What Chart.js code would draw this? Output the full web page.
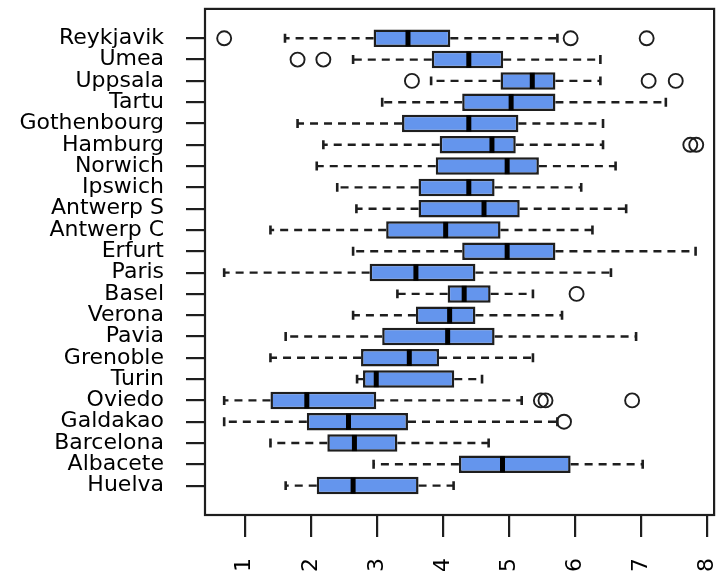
<!DOCTYPE html>
<html><head><meta charset="utf-8">
<script src="https://cdn.jsdelivr.net/npm/chart.js@4.4.1/dist/chart.umd.min.js"></script>
<style>html,body{margin:0;padding:0;background:#fff}#wrap{width:723px;height:574px}</style>
</head><body><div id="wrap"><canvas id="c" width="723" height="574"></canvas></div>
<script>
const cities = ["Reykjavik","Umea","Uppsala","Tartu","Gothenbourg","Hamburg","Norwich","Ipswich","Antwerp S","Antwerp C","Erfurt","Paris","Basel","Verona","Pavia","Grenoble","Turin","Oviedo","Galdakao","Barcelona","Albacete","Huelva"];
const lowWhisker  = [1.61,2.64,3.82,3.08,1.80,2.19,2.09,2.40,2.69,1.39,2.64,0.69,3.31,2.64,1.62,1.39,2.70,0.69,0.69,1.39,2.95,1.62];
const q1          = [2.95,3.83,4.87,4.29,3.38,3.95,3.89,3.63,3.63,3.14,4.29,2.89,4.07,3.59,3.08,2.76,2.79,1.39,1.94,2.25,4.24,2.09];
const median      = [3.47,4.39,5.35,5.03,4.39,4.74,4.97,4.39,4.62,4.04,4.97,3.59,4.32,4.10,4.07,3.49,2.99,1.94,2.57,2.66,4.90,2.64];
const q3          = [4.11,4.91,5.70,5.70,5.14,5.10,5.45,4.78,5.16,4.87,5.70,4.49,4.72,4.49,4.78,3.94,4.17,2.99,3.47,3.31,5.93,3.63];
const highWhisker = [5.73,6.38,6.38,7.37,6.42,6.42,6.61,6.09,6.77,6.26,7.82,6.54,5.36,5.80,6.92,5.36,4.59,5.19,5.73,4.69,7.02,4.16];
const outlierCity  = ["Reykjavik","Reykjavik","Reykjavik","Umea","Umea","Uppsala","Uppsala","Uppsala","Hamburg","Hamburg","Basel","Oviedo","Oviedo","Oviedo","Galdakao"];
const outlierValue = [0.69,5.93,7.08,1.80,2.19,3.53,7.11,7.52,7.74,7.83,6.02,5.48,5.55,6.86,5.83];
const xTicks = [1,2,3,4,5,6,7,8];

const INK = '#1e1e1e';
const boxExtras = {
  id: 'boxExtras',
  beforeDatasetsDraw(chart) {
    const xs = chart.scales.x, ys = chart.scales.y, ctx = chart.ctx;
    ctx.save();
    ctx.strokeStyle = INK;
    cities.forEach((c, i) => {
      const y = ys.getPixelForValue(i + 1);
      const ya = ys.getPixelForValue(i + 1 - 0.21), yb = ys.getPixelForValue(i + 1 + 0.21);
      ctx.lineWidth = 2.4;
      ctx.setLineDash([8, 6]);
      ctx.beginPath();
      ctx.moveTo(xs.getPixelForValue(q1[i]), y); ctx.lineTo(xs.getPixelForValue(lowWhisker[i]), y);
      ctx.moveTo(xs.getPixelForValue(q3[i]), y); ctx.lineTo(xs.getPixelForValue(highWhisker[i]), y);
      ctx.stroke();
      ctx.setLineDash([]);
      ctx.lineWidth = 2.6;
      ctx.beginPath();
      const xl = xs.getPixelForValue(lowWhisker[i]), xh = xs.getPixelForValue(highWhisker[i]);
      ctx.moveTo(xl, ya); ctx.lineTo(xl, yb);
      ctx.moveTo(xh, ya); ctx.lineTo(xh, yb);
      ctx.stroke();
    });
    ctx.restore();
  },
  afterDatasetsDraw(chart) {
    const xs = chart.scales.x, ys = chart.scales.y, ctx = chart.ctx, a = chart.chartArea;
    ctx.save();
    ctx.strokeStyle = '#000';
    ctx.lineWidth = 5;
    cities.forEach((c, i) => {
      const xm = xs.getPixelForValue(median[i]);
      ctx.beginPath();
      ctx.moveTo(xm, ys.getPixelForValue(i + 1 - 0.38));
      ctx.lineTo(xm, ys.getPixelForValue(i + 1 + 0.38));
      ctx.stroke();
    });
    ctx.strokeStyle = INK;
    ctx.lineWidth = 2.2;
    ctx.strokeRect(a.left, a.top, a.right - a.left, a.bottom - a.top);
    ctx.restore();
  }
};

new Chart(document.getElementById('c'), {
  type: 'bar',
  data: {
    datasets: [
      {
        type: 'scatter',
        data: outlierValue.map((v, k) => ({ x: v, y: cities.indexOf(outlierCity[k]) + 1 })),
        pointRadius: 7,
        pointBackgroundColor: 'rgba(0,0,0,0)',
        pointBorderColor: INK,
        pointBorderWidth: 1.9
      },
      {
        type: 'bar',
        indexAxis: 'y',
        data: cities.map((c, i) => ({ x: [q1[i], q3[i]], y: i + 1 })),
        backgroundColor: '#6495ED',
        borderColor: INK,
        borderWidth: 2.5,
        borderSkipped: false,
        categoryPercentage: 1,
        barPercentage: 0.82
      }
    ]
  },
  options: {
    responsive: false,
    animation: false,
    events: [],
    indexAxis: 'y',
    layout: { padding: { top: 8, right: 5, left: 0, bottom: 0 } },
    plugins: { legend: { display: false }, tooltip: { enabled: false } },
    scales: {
      x: {
        type: 'linear', position: 'bottom', min: 0.40, max: 8.10, offset: false,
        afterBuildTicks(s) { s.ticks = xTicks.map(v => ({ value: v })); },
        afterFit(s) { s.height = 59; s.paddingLeft = 0; s.paddingRight = 0; },
        border: { display: false },
        grid: { offset: false, drawOnChartArea: false, drawTicks: true, tickLength: 22, color: INK, lineWidth: 2.2 },
        ticks: { autoSkip: false, minRotation: 90, maxRotation: 90, padding: 21, color: '#000',
                 font: { family: 'DejaVu Sans', size: 22 } }
      },
      y: {
        type: 'linear', position: 'left', reverse: true, min: -0.38, max: 23.38, offset: false,
        afterBuildTicks(s) { s.ticks = cities.map((c, i) => ({ value: i + 1 })); },
        afterFit(s) { s.width = 205; s.paddingTop = 0; s.paddingBottom = 0; },
        border: { display: false },
        grid: { offset: false, drawOnChartArea: false, drawTicks: true, tickLength: 19, color: INK, lineWidth: 2.2 },
        ticks: { autoSkip: false, padding: 22, color: '#000',
                 font: { family: 'DejaVu Sans', size: 22 },
                 callback: (v) => cities[v - 1] }
      }
    }
  },
  plugins: [boxExtras]
});
</script></body></html>
